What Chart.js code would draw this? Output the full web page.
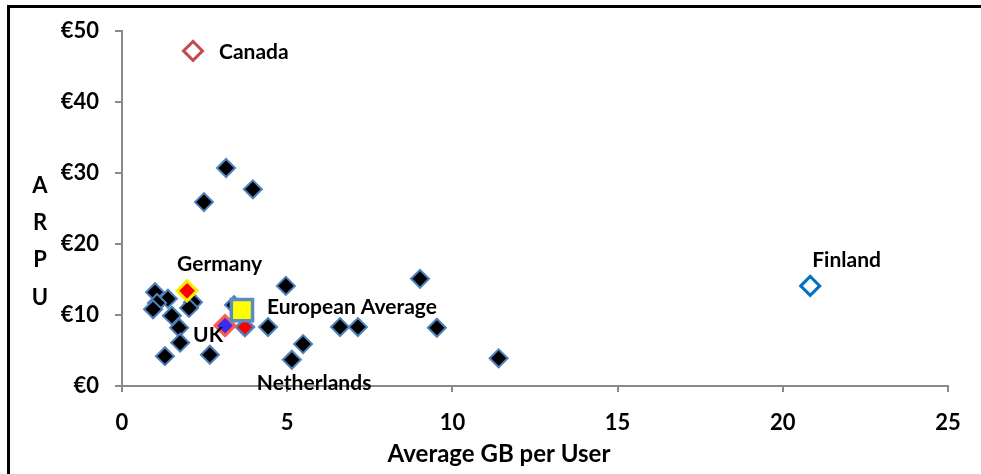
<!DOCTYPE html>
<html>
<head>
<meta charset="utf-8">
<script src="https://cdn.jsdelivr.net/npm/chart.js@4.4.0/dist/chart.umd.min.js"></script>
<style>
  html, body { margin: 0; padding: 0; background: #fff; overflow: hidden; }
  #wrap { position: relative; width: 981px; height: 474px; }
  #frame { position: absolute; left: 7px; top: 5px; width: 990px; height: 480px;
           border-left: 3px solid #000; border-top: 3px solid #000; pointer-events: none; }
  canvas { position: absolute; left: 0; top: 0; }
</style>
</head>
<body>
<div id="wrap">
  <canvas id="c" width="981" height="474"></canvas>
  <div id="frame"></div>
</div>
<script>
// ---- Data (Average GB per user, ARPU in €) ----
const otherGB   = [3.15, 3.96, 2.48, 4.96, 9.02, 1.00, 1.39, 1.06, 0.94, 2.15, 2.03, 1.51, 1.73, 1.76, 1.30, 2.66, 3.39, 4.42, 6.60, 7.14, 9.53, 5.48, 5.14, 11.40];
const otherARPU = [30.7, 27.7, 25.9, 14.1, 15.1, 13.2, 12.3, 11.7, 10.8, 11.8, 11.0, 9.9, 8.2, 6.1, 4.2, 4.4, 11.4, 8.3, 8.3, 8.3, 8.2, 5.9, 3.7, 3.9];
const canada    = { gb: 2.15, arpu: 47.2 };
const finland   = { gb: 20.83, arpu: 14.1 };
const germany   = { gb: 1.97, arpu: 13.4 };
const uk        = { gb: 3.12, arpu: 8.5 };
const highlight = { gb: 3.72, arpu: 8.3 };
const euroAvg   = { gb: 3.63, arpu: 10.7 };
const xTicks = [0, 5, 10, 15, 20, 25];
const yTicks = [0, 10, 20, 30, 40, 50];
const yTitleLetters = ['A', 'R', 'P', 'U'];
const xTitle = 'Average GB per User';

const FONT = 'Lato, "Open Sans", sans-serif';

const pts = (a, b) => a.map((v, i) => ({ x: v, y: b[i] }));
const one = o => [{ x: o.gb, y: o.arpu }];

// labels: dataset index, text, pixel offsets from the point
const labels = [
  { ds: 1, text: 'Canada', dx: 26, dy: 1 },
  { ds: 2, text: 'Finland', dx: 2, dy: -26 },
  { ds: 4, text: 'Germany', dx: -10, dy: -27 },
  { ds: 0, text: 'European Average', dx: 25, dy: -3 },
  { ds: 3, text: 'UK', dx: -32, dy: 10 },
  { ds: 6, idx: 22, text: 'Netherlands', dx: -35, dy: 24 }
];

const labelPlugin = {
  id: 'labels',
  afterDatasetsDraw(chart) {
    const ctx = chart.ctx;
    ctx.save();
    ctx.font = 'bold 21px ' + FONT;
    ctx.fillStyle = '#000';
    ctx.textAlign = 'left';
    ctx.textBaseline = 'middle';
    labels.forEach(l => {
      const meta = chart.getDatasetMeta(l.ds);
      const el = meta.data[l.idx || 0];
      ctx.fillText(l.text, el.x + l.dx, el.y + l.dy);
    });
    // vertical stacked y title
    ctx.font = 'bold 22px ' + FONT;
    ctx.textAlign = 'center';
    const ys = chart.scales.y;
    const cy = (ys.top + ys.bottom) / 2 + 33;
    const gap = 37.3;
    yTitleLetters.forEach((ch, i) => {
      ctx.fillText(ch, 40, cy + (i - (yTitleLetters.length - 1) / 2) * gap);
    });
    // x title (offset left of the plot centre, as in the original)
    const xs = chart.scales.x;
    ctx.font = 'bold 24px ' + FONT;
    ctx.textBaseline = 'alphabetic';
    ctx.fillText(xTitle, (xs.left + xs.right) / 2 - 36, xs.bottom - 12);
    ctx.restore();
  }
};

new Chart(document.getElementById('c'), {
  type: 'scatter',
  data: {
    datasets: [
      { label: 'European Average', data: one(euroAvg), pointStyle: 'rect', pointRadius: 15, pointHoverRadius: 15,
        backgroundColor: '#FFFF00', borderColor: '#5B8AC6', borderWidth: 3.5 },
      { label: 'Canada', data: one(canada), pointStyle: 'rectRot', pointRadius: 9.5, pointHoverRadius: 9.5,
        backgroundColor: '#FFFFFF', borderColor: '#C0504D', borderWidth: 3 },
      { label: 'Finland', data: one(finland), pointStyle: 'rectRot', pointRadius: 9.5, pointHoverRadius: 9.5,
        backgroundColor: '#FFFFFF', borderColor: '#0070C0', borderWidth: 3 },
      { label: 'UK', data: one(uk), pointStyle: 'rectRot', pointRadius: 10, pointHoverRadius: 10,
        backgroundColor: '#3A2CF0', borderColor: '#FF5A4A', borderWidth: 3 },
      { label: 'Germany', data: one(germany), pointStyle: 'rectRot', pointRadius: 10, pointHoverRadius: 10,
        backgroundColor: '#FF0000', borderColor: '#F7EE00', borderWidth: 3 },
      { label: 'Highlight', data: one(highlight), pointStyle: 'rectRot', pointRadius: 9, pointHoverRadius: 9,
        backgroundColor: '#FF0000', borderColor: '#4F81BD', borderWidth: 2.5 },
      { label: 'Other countries', data: pts(otherGB, otherARPU), pointStyle: 'rectRot', pointRadius: 9, pointHoverRadius: 9,
        backgroundColor: '#000000', borderColor: '#4F81BD', borderWidth: 2 }
    ]
  },
  options: {
    responsive: false,
    animation: false,
    events: [],
    layout: { padding: { left: 0, right: 33, top: 31, bottom: 0 } },
    plugins: { legend: { display: false }, tooltip: { enabled: false } },
    scales: {
      x: {
        type: 'linear', min: xTicks[0], max: xTicks[xTicks.length - 1],
        afterBuildTicks: s => { s.ticks = xTicks.map(v => ({ value: v })); },
        afterFit: s => { s.height = 88; },
        grid: { display: true, drawOnChartArea: false, drawTicks: true, tickLength: 6, color: '#898989', lineWidth: 2 },
        border: { display: true, color: '#898989', width: 2 },
        ticks: { color: '#000', padding: 18, font: { family: FONT, size: 22, weight: 'bold' } },
        title: { display: false }
      },
      y: {
        type: 'linear', min: yTicks[0], max: yTicks[yTicks.length - 1],
        afterBuildTicks: s => { s.ticks = yTicks.map(v => ({ value: v })); },
        afterFit: s => { s.width = 122; },
        grid: { display: true, drawOnChartArea: false, drawTicks: true, tickLength: 7, color: '#898989', lineWidth: 2 },
        border: { display: true, color: '#898989', width: 2 },
        ticks: { color: '#000', padding: 16, font: { family: FONT, size: 22, weight: 'bold' },
                 callback: v => '€' + v }
      }
    }
  },
  plugins: [labelPlugin]
});
</script>
</body>
</html>
